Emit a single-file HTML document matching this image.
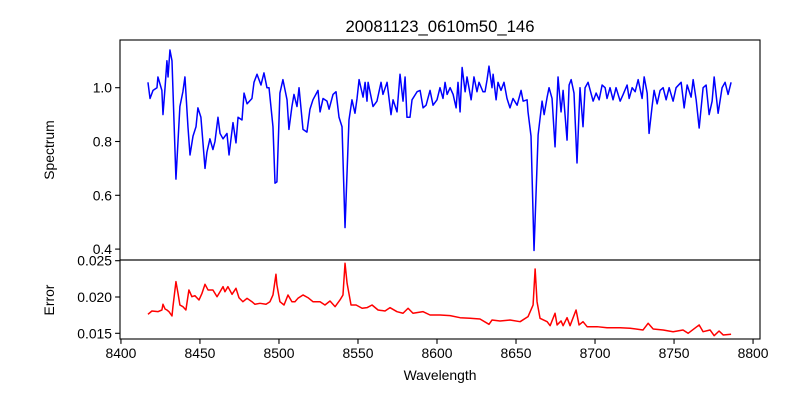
<!DOCTYPE html>
<html><head><meta charset="utf-8"><style>
body{margin:0;background:#fff;}
svg{display:block;font-family:"Liberation Sans","DejaVu Sans",sans-serif;}
</style></head><body>
<svg id="chart" width="800" height="400" viewBox="0 0 800 400">
<rect width="800" height="400" fill="#fff"/>
<text x="440" y="32" font-size="16.7" text-anchor="middle">20081123_0610m50_146</text>
<g id="topPanel"></g>
<g id="botPanel"></g>
<text x="440" y="380" font-size="13.9" text-anchor="middle">Wavelength</text>
<text transform="translate(54,150) rotate(-90)" font-size="13.9" text-anchor="middle">Spectrum</text>
<text transform="translate(54,300) rotate(-90)" font-size="13.9" text-anchor="middle">Error</text>
</svg>
<script>
const specWl=[8417.1,8418.4,8420.3,8422.8,8423.4,8425.9,8426.6,8427.9,8429.1,8429.8,8431.0,8432.3,8434.8,8437.3,8439.2,8440.5,8442.4,8443.7,8445.6,8447.5,8448.7,8450.6,8453.2,8454.4,8456.3,8458.2,8459.5,8461.4,8462.7,8464.6,8467.1,8468.4,8470.9,8472.8,8474.1,8476.6,8477.9,8479.8,8482.9,8484.2,8486.1,8488.6,8490.5,8492.4,8493.7,8496.2,8497.5,8498.7,8500.6,8502.5,8505.1,8506.3,8508.2,8509.5,8511.4,8512.7,8515.2,8517.7,8519.6,8521.5,8524.7,8526.0,8527.9,8530.4,8531.7,8534.2,8536.1,8538.0,8539.9,8541.8,8544.3,8546.2,8548.1,8549.4,8550.7,8553.2,8554.5,8555.7,8556.4,8559.5,8562.0,8564.6,8565.8,8568.4,8570.9,8572.2,8574.7,8576.6,8578.5,8579.8,8581.0,8582.9,8584.2,8587.4,8589.3,8591.2,8593.1,8595.6,8597.5,8600.0,8601.9,8603.8,8605.1,8606.4,8608.3,8610.2,8612.1,8613.3,8614.6,8615.9,8617.8,8619.0,8621.6,8623.4,8625.3,8626.6,8629.1,8630.4,8631.7,8632.9,8634.8,8635.5,8637.4,8638.6,8640.5,8642.4,8644.3,8646.2,8648.1,8650.7,8653.2,8654.5,8657.0,8657.6,8659.5,8661.4,8664.0,8666.5,8667.8,8669.7,8670.9,8672.8,8674.7,8676.6,8678.5,8679.8,8682.3,8683.6,8684.9,8686.7,8688.6,8690.5,8692.4,8693.7,8695.6,8698.8,8700.7,8702.6,8704.5,8706.4,8707.6,8709.5,8711.4,8713.3,8715.9,8717.8,8720.3,8721.6,8723.5,8725.4,8727.3,8729.8,8731.1,8733.0,8734.2,8736.1,8737.4,8739.3,8741.2,8743.1,8745.0,8746.9,8749.4,8751.3,8754.5,8756.4,8758.3,8760.8,8762.1,8764.0,8765.9,8768.4,8770.3,8772.2,8774.1,8775.4,8777.9,8780.4,8782.3,8784.2,8786.1];
const specFlux=[1.02,0.96,0.99,1.0,1.04,0.99,0.90,1.0,1.10,1.04,1.14,1.10,0.66,0.93,0.985,1.04,0.855,0.75,0.82,0.855,0.925,0.89,0.70,0.76,0.81,0.77,0.80,0.89,0.83,0.81,0.83,0.75,0.87,0.795,0.89,0.88,0.98,0.94,0.96,1.02,1.05,1.01,1.055,1.0,1.0,0.855,0.645,0.65,0.98,1.03,0.955,0.845,0.93,0.975,0.93,1.0,0.845,0.835,0.92,0.955,0.99,0.91,0.96,0.95,0.92,0.975,0.985,0.89,0.855,0.48,0.88,0.955,0.905,0.96,1.03,0.965,1.02,0.95,1.02,0.93,0.95,1.02,0.975,1.02,0.90,0.955,0.91,1.05,0.95,1.04,0.89,0.89,0.955,0.985,0.99,0.925,0.935,0.99,0.935,0.955,1.0,0.96,1.02,0.975,1.0,0.975,0.925,1.02,0.91,1.075,0.985,1.04,0.955,1.04,0.985,1.02,0.985,0.985,1.03,1.08,1.0,1.05,0.955,1.02,0.99,1.02,0.96,0.925,0.96,0.935,0.99,0.95,0.955,0.91,0.82,0.395,0.825,0.95,0.90,0.965,1.0,0.96,0.78,1.04,0.91,0.99,0.805,1.01,1.03,0.98,0.72,1.0,0.855,1.0,1.02,0.95,0.98,0.955,1.01,1.0,0.96,1.0,0.955,1.0,0.95,0.975,1.01,0.96,1.0,0.985,1.03,0.96,1.04,0.98,0.83,0.93,0.99,0.94,0.99,1.0,0.955,1.0,0.95,1.0,1.02,0.925,1.01,0.965,1.03,0.955,0.85,1.0,1.01,0.90,0.95,1.04,0.905,1.0,1.02,0.975,1.02];
const errWl=[8417.1,8419.6,8423.4,8425.9,8426.6,8427.9,8429.1,8430.4,8432.3,8432.9,8434.8,8436.1,8437.3,8439.2,8441.1,8443.0,8444.9,8446.8,8449.4,8451.3,8453.2,8455.1,8458.2,8460.8,8462.7,8464.6,8465.8,8467.7,8470.3,8472.8,8474.7,8477.2,8479.8,8482.9,8484.8,8488.0,8491.8,8494.3,8496.2,8498.1,8498.7,8500.6,8503.2,8505.7,8508.2,8510.1,8512.0,8515.2,8518.4,8521.5,8526.0,8529.1,8532.3,8535.5,8538.6,8540.5,8541.8,8543.1,8545.6,8548.8,8552.6,8555.7,8558.9,8562.7,8567.1,8570.3,8574.7,8578.5,8581.7,8584.8,8591.2,8595.6,8601.9,8608.3,8614.6,8620.9,8627.2,8632.9,8634.8,8639.9,8646.2,8652.6,8657.6,8660.8,8662.1,8663.3,8665.2,8669.7,8671.6,8674.7,8676.0,8678.5,8679.8,8682.3,8684.2,8688.0,8689.9,8692.4,8695.0,8701.3,8707.6,8715.9,8722.2,8730.4,8733.6,8736.8,8743.1,8749.4,8755.7,8758.9,8765.9,8768.4,8772.8,8775.4,8778.5,8781.1,8786.1];
const errVal=[0.01762,0.01807,0.01798,0.01821,0.0190,0.01835,0.01821,0.01798,0.01739,0.01867,0.02211,0.02051,0.0189,0.01867,0.01821,0.02097,0.02004,0.02018,0.01959,0.02051,0.02175,0.02097,0.02097,0.02004,0.02073,0.02142,0.02073,0.02142,0.02037,0.0212,0.0199,0.01935,0.01982,0.01935,0.0190,0.01913,0.0190,0.01935,0.02028,0.02313,0.02165,0.01935,0.0189,0.02028,0.01935,0.01935,0.01982,0.02028,0.0199,0.01935,0.01935,0.0189,0.01945,0.01867,0.01959,0.02028,0.02464,0.02189,0.0189,0.0189,0.01845,0.01853,0.0189,0.01821,0.01807,0.01853,0.01798,0.01776,0.01845,0.01776,0.01798,0.01752,0.01752,0.01743,0.01715,0.01707,0.01697,0.01624,0.01683,0.0167,0.01683,0.0166,0.01729,0.0189,0.02386,0.01935,0.01707,0.0166,0.01605,0.01776,0.01615,0.0167,0.01605,0.01715,0.01605,0.01821,0.01615,0.0166,0.01591,0.01591,0.01577,0.01577,0.01569,0.01546,0.01638,0.01559,0.01546,0.01522,0.01546,0.0150,0.01615,0.01522,0.01546,0.01467,0.01532,0.01477,0.01487];
const xTicks=[8400,8450,8500,8550,8600,8650,8700,8750,8800];
const specTicks=[0.4,0.6,0.8,1.0];
const specTickLabels=["0.4","0.6","0.8","1.0"];
const errTicks=[0.015,0.020,0.025];
const errTickLabels=["0.015","0.020","0.025"];

const NS="http://www.w3.org/2000/svg";
const L=120,R=760;
const X0=8399.4,X1=8804.4;
const xs=w=>L+(w-X0)/(X1-X0)*(R-L);
const ysT=v=>87.7-(v-1.0)*269;
const ysB=v=>260.7-(v-0.025)*7260;
function mk(tag,attrs,parent){const e=document.createElementNS(NS,tag);for(const k in attrs)e.setAttribute(k,attrs[k]);parent.appendChild(e);return e;}
const topG=document.getElementById('topPanel'),botG=document.getElementById('botPanel');

function panel(g,y0,y1,wl,vals,ys,color,ticks,labels,showX,nm){
  const n=Math.min(wl.length,vals.length);
  let d='';
  for(let i=0;i<n;i++){d+=(i?'L':'M')+xs(wl[i]).toFixed(2)+','+ys(vals[i]).toFixed(2);}
  const p=mk('path',{d:d,fill:'none',stroke:color,'stroke-width':1.5,'stroke-linejoin':'round'},g);
  
  
  const fr=mk('rect',{x:L,y:y0,width:R-L,height:y1-y0,fill:'none',stroke:'#000','stroke-width':1.1},g);
  
  
  ticks.forEach((t,i)=>{
    const y=ys(t);
    const tl=mk('line',{x1:L-4.9,x2:L,y1:y,y2:y,stroke:'#000','stroke-width':1.1},g);
    
    
    const tx=mk('text',{x:L-8,y:y+5,'font-size':13.9,'text-anchor':'end'},g);
    tx.textContent=labels[i];
    
    
  });
  if(showX){
    xTicks.forEach(t=>{
      const x=xs(t);
      const tl=mk('line',{x1:x,x2:x,y1:y1,y2:y1+4.9,stroke:'#000','stroke-width':1.1},g);
      
      
      const tx=mk('text',{x:x,y:y1+19,'font-size':13.9,'text-anchor':'middle'},g);
      tx.textContent=String(t);
      
      
    });
  }
}
panel(topG,40,260,specWl,specFlux,ysT,'#0000ff',specTicks,specTickLabels,false,'spectrum');
panel(botG,260,339,errWl,errVal,ysB,'#ff0000',errTicks,errTickLabels,true,'error');
</script>
</body></html>
